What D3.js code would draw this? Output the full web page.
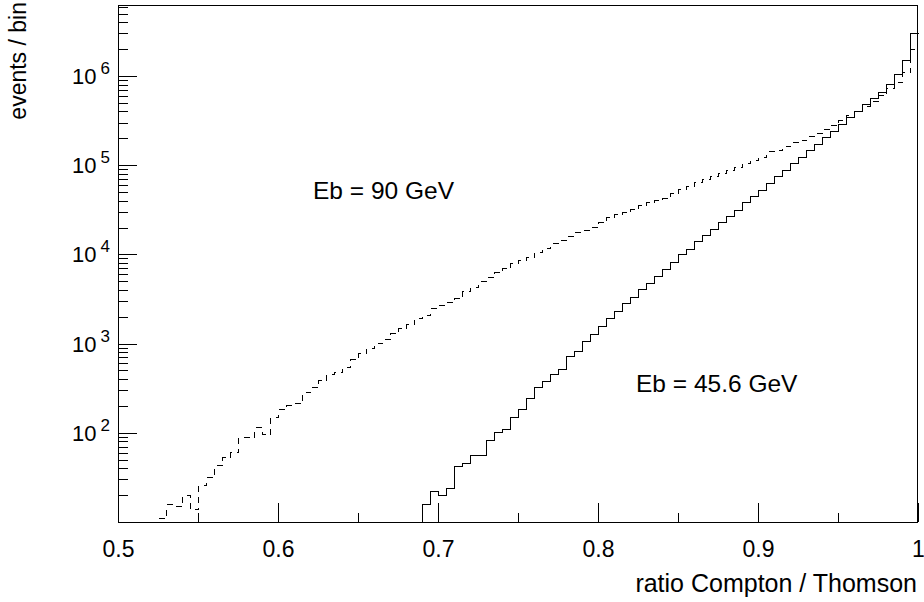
<!DOCTYPE html>
<html>
<head>
<meta charset="utf-8">
<script src="https://cdn.jsdelivr.net/npm/d3@7"></script>
<style>
  html, body { margin: 0; padding: 0; background: #fff; }
  svg { display: block; }
  text { font-family: "Liberation Sans", Arial, Helvetica, sans-serif; fill: #000; }
</style>
</head>
<body>
<svg id="chart" width="924" height="602"></svg>
<script>
// ---------------- data ----------------
const xLow = 0.5, xHigh = 1.0, nBins = 100;           // histogram binning
const xTickMajor = [0.5, 0.6, 0.7, 0.8, 0.9, 1.0];
const xTickLabels = ["0.5", "0.6", "0.7", "0.8", "0.9", "1"];
const xTickMinor = [0.55, 0.65, 0.75, 0.85, 0.95];
const yMin = 10, yMax = 6.17e6;
const yDecades = [10, 100, 1000, 10000, 100000, 1000000];
const yDecadeLabels = ["", "2", "3", "4", "5", "6"];   // exponents shown as 10^n
const xTitle = "ratio Compton / Thomson";
const yTitle = "events / bin";
const seriesNames = ["Eb = 90 GeV", "Eb = 45.6 GeV"];

// Eb = 90 GeV (dashed)
const eb90 = [
  0, 0, 0, 0, 0, 11, 16, 15, 20, 14,
  26, 32, 43, 53, 61, 89, 89, 117, 98, 151,
  183, 205, 214, 288, 328, 390, 461, 485, 546, 665,
  776, 883, 1005, 1114, 1322, 1493, 1656, 1932, 2086, 2500,
  2737, 2918, 3236, 3879, 4356, 5022, 5570, 6339, 7021, 7984,
  8630, 9330, 10610, 11770, 13390, 14660, 16040, 17780, 18970, 20500,
  23020, 26190, 28310, 30200, 32220, 35720, 39090, 41140, 43330, 48650,
  54670, 58320, 64680, 69870, 75500, 81550, 89250, 96430, 105600, 114100,
  124900, 143900, 147600, 163700, 181500, 193700, 211900, 232100, 254200, 285300,
  320400, 364600, 409500, 460000, 530000, 610600, 731400, 865300, 1120000, 2028000
];
// Eb = 45.6 GeV (solid)
const eb456 = [
  0, 0, 0, 0, 0, 0, 0, 0, 0, 0,
  0, 0, 0, 0, 0, 0, 0, 0, 0, 0,
  0, 0, 0, 0, 0, 0, 0, 0, 0, 0,
  0, 0, 0, 0, 0, 0, 0, 0, 16, 22,
  20, 24, 42, 46, 57, 57, 84, 101, 109, 151,
  183, 243, 323, 383, 455, 522, 730, 830, 1067, 1280,
  1560, 1920, 2333, 2820, 3300, 4050, 4810, 5710, 6840, 8200,
  10000, 11400, 14000, 16600, 19400, 23000, 26900, 31800, 38600, 45000,
  52600, 63000, 75500, 88100, 105600, 123300, 147600, 174700, 206600, 244300,
  289000, 346000, 409000, 484000, 565000, 660000, 811000, 1050000, 1510000, 3030000
];

// ---------------- layout ----------------
const L = 118, R = 918, T = 5.5, B = 522;
const svg = d3.select("#chart");

const x = d3.scaleLinear().domain([xLow, xHigh]).range([L, R]);
const y = d3.scaleLog().domain([yMin, yMax]).range([B, T]).clamp(true);

const binW = (xHigh - xLow) / nBins;
const edges = d3.range(nBins + 1).map(i => xLow + i * binW);

function stepPoints(vals) {
  const pts = [];
  vals.forEach((v, i) => {
    const vv = Math.max(v, yMin);
    pts.push([edges[i], vv]);
    pts.push([edges[i + 1], vv]);
  });
  return pts;
}
const line = d3.line().x(d => Math.round(x(d[0])) + 0.5).y(d => Math.round(y(d[1])) + 0.5);

// histograms
svg.append("path")
  .attr("d", line(stepPoints(eb90)))
  .attr("fill", "none").attr("stroke", "#000").attr("stroke-width", 1)
  .attr("stroke-dasharray", "6,5")
  .attr("shape-rendering", "crispEdges");

svg.append("path")
  .attr("d", line(stepPoints(eb456)))
  .attr("fill", "none").attr("stroke", "#000").attr("stroke-width", 1)
  .attr("shape-rendering", "crispEdges");

// frame
svg.append("rect")
  .attr("x", L + 0.5).attr("y", T).attr("width", R - L - 1).attr("height", B - T)
  .attr("fill", "none").attr("stroke", "#000").attr("stroke-width", 1)
  .attr("shape-rendering", "crispEdges");

// x axis ticks
const gx = svg.append("g").attr("transform", `translate(0,${B})`);
gx.call(d3.axisBottom(x).tickValues(xTickMajor).tickSize(-19).tickSizeOuter(0).tickPadding(18.5)
  .tickFormat((d, i) => xTickLabels[i]));
gx.append("g").call(d3.axisBottom(x).tickValues(xTickMinor).tickSize(-9.5).tickSizeOuter(0).tickFormat(""));
gx.selectAll(".domain").remove();
gx.selectAll("line").attr("stroke", "#000").attr("shape-rendering", "crispEdges");
gx.selectAll("text").style("font-size", "23px").attr("fill", "#000")
  .style("font-family", '"Liberation Sans", Arial, sans-serif');

// y axis ticks
const yMinor = [];
yDecades.forEach(d => { for (let m = 2; m <= 9; m++) { const v = d * m; if (v < yMax) yMinor.push(v); } });
const gy = svg.append("g").attr("transform", `translate(${L},0)`);
gy.call(d3.axisLeft(y).tickValues(yDecades).tickSize(-19).tickSizeOuter(0).tickFormat(""));
gy.append("g").call(d3.axisLeft(y).tickValues(yMinor).tickSize(-10).tickSizeOuter(0).tickFormat(""));
gy.selectAll(".domain").remove();
gy.selectAll("line").attr("stroke", "#000").attr("shape-rendering", "crispEdges");

// y decade labels 10^n
yDecades.forEach((d, i) => {
  if (!yDecadeLabels[i]) return;
  const t = svg.append("text")
    .attr("x", 110).attr("y", y(d) + 8)
    .attr("text-anchor", "end")
    .style("font-size", "22px");
  t.append("tspan").text("10");
  t.append("tspan").attr("dx", 4).attr("dy", -10).style("font-size", "17px").text(yDecadeLabels[i]);
});

// axis titles
svg.append("text").attr("x", R - 1).attr("y", 592).attr("text-anchor", "end")
  .style("font-size", "25px").text(xTitle);
svg.append("text").attr("transform", `translate(26,2) rotate(-90)`).attr("text-anchor", "end")
  .style("font-size", "23px").text(yTitle);

// annotations
svg.append("text").attr("x", 313).attr("y", 199).style("font-size", "24.5px").text(seriesNames[0]);
svg.append("text").attr("x", 636).attr("y", 392).style("font-size", "24.5px").text(seriesNames[1]);
</script>
</body>
</html>
